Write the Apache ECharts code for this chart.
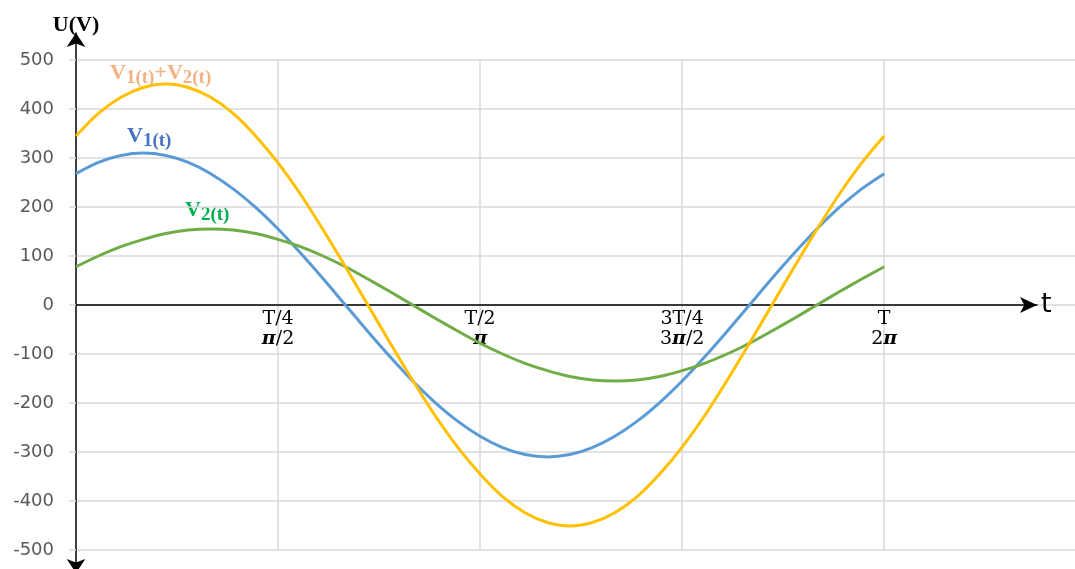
<!DOCTYPE html>
<html>
<head>
<meta charset="utf-8">
<script src="https://cdn.jsdelivr.net/npm/echarts@6/dist/echarts.min.js"></script>
<style>
  html, body { margin: 0; padding: 0; background: #fff; }
  #chart { width: 1075px; height: 569px; }
</style>
</head>
<body>
<div id="chart"></div>
<script>
    "use strict";

    // phase in degrees, one period = 360
    var tDeg = [0, 10, 20, 30, 40, 50, 60, 70, 80, 90, 100, 110, 120,
        130, 140, 150, 160, 170, 180, 190, 200, 210, 220, 230, 240,
        250, 260, 270, 280, 290, 300, 310, 320, 330, 340, 350, 360];
    var v1 = [268, 291, 305, 310, 305, 291, 268, 237, 199, 155, 106, 54, 0,
        -54, -106, -155, -199, -237, -268, -291, -305, -310, -305, -291, -268,
        -237, -199, -155, -106, -54, 0, 54, 106, 155, 199, 237, 268];
    var v2 = [78, 100, 119, 134, 146, 153, 155, 153, 146, 134, 119, 100, 78,
        53, 27, 0, -27, -53, -78, -100, -119, -134, -146, -153, -155,
        -153, -146, -134, -119, -100, -78, -53, -27, 0, 27, 53, 78];
    var vSum = [345, 391, 424, 444, 451, 444, 424, 391, 345, 290, 226, 154, 78,
        0, -78, -154, -226, -290, -345, -391, -424, -444, -451, -444, -424,
        -391, -345, -290, -226, -154, -78, 0, 78, 154, 226, 290, 345];

    var quarterTicks = [90, 180, 270, 360];
    var periodLabels = ['T/4', 'T/2', '3T/4', 'T'];
    var phaseLabels = ['{b|π}/2', '{b|π}', '3{b|π}/2', '2{b|π}'];

    function pairs(ys) {
        return tDeg.map(function (t, i) {
            return [t, ys[i]];
        });
    }

    var myChart = echarts.init(document.getElementById('chart'));

    var subStyle = {
        fontFamily: 'Liberation Serif',
        fontWeight: 'bold',
        fontSize: 19,
        lineHeight: 19,
        verticalAlign: 'bottom'
    };
    var bigStyle = {
        fontFamily: 'Liberation Serif',
        fontWeight: 'bold',
        fontSize: 22,
        lineHeight: 26,
        verticalAlign: 'top'
    };

    function curveLabel(text, color, left, top) {
        return {
            type: 'text',
            left: left,
            top: top,
            style: {
                text: text,
                fill: color,
                rich: { v: bigStyle, s: subStyle }
            }
        };
    }

    var option = {
        backgroundColor: '#fff',
        animation: false,
        grid: [
            { left: 76, right: 0, top: 60, bottom: 19, containLabel: false, outerBoundsMode: 'none' },
            { left: 76, right: 0, top: 33, bottom: -4, containLabel: false, outerBoundsMode: 'none' },
            { left: 76, right: 38, top: 0, bottom: 264, containLabel: false, outerBoundsMode: 'none' }
        ],
        xAxis: [
            {
                type: 'value',
                gridIndex: 0,
                min: 0,
                max: 445,
                interval: 90,
                position: 'bottom',
                // grid is 490px tall, so the zero line sits 245px above its bottom
                offset: -245,
                axisLine: { show: false, onZero: false },
                axisTick: { show: false },
                splitLine: {
                    show: true,
                    showMinLine: false,
                    showMaxLine: false,
                    lineStyle: { color: '#d9d9d9', width: 1.5 }
                },
                axisLabel: {
                    margin: 4,
                    color: '#000',
                    fontFamily: 'DejaVu Serif',
                    fontSize: 19,
                    lineHeight: 20,
                    formatter: function (val) {
                        var i = quarterTicks.indexOf(val);
                        if (i < 0) {
                            return '';
                        }
                        return periodLabels[i] + '\n' + phaseLabels[i];
                    },
                    rich: {
                        b: {
                            fontFamily: 'DejaVu Serif',
                            fontWeight: 'bold',
                            fontStyle: 'italic',
                            fontSize: 19,
                            lineHeight: 20,
                            color: '#000'
                        }
                    }
                }
            },
            { type: 'value', gridIndex: 1, min: 0, max: 1, show: false },
            {
                type: 'value',
                gridIndex: 2,
                min: 0,
                max: 1,
                position: 'bottom',
                name: 't',
                nameLocation: 'end',
                nameGap: 4,
                nameTextStyle: { color: '#000', fontSize: 27, fontFamily: 'DejaVu Sans', verticalAlign: 'middle', padding: [0, 0, 3, 0] },
                axisLine: {
                    show: true,
                    onZero: false,
                    symbol: ['none', 'arrow'],
                    symbolSize: [12, 17],
                    lineStyle: { color: '#000', width: 1.5 }
                },
                axisTick: { show: false },
                axisLabel: { show: false },
                splitLine: { show: false }
            }
        ],
        yAxis: [
            {
                type: 'value',
                gridIndex: 0,
                min: -500,
                max: 500,
                interval: 100,
                axisLine: { show: false, onZero: false },
                axisTick: {
                    show: true,
                    length: 7,
                    lineStyle: { color: '#d9d9d9', width: 1.5 }
                },
                splitLine: { lineStyle: { color: '#d9d9d9', width: 1.5 } },
                axisLabel: {
                    margin: 22,
                    color: '#595959',
                    fontFamily: 'DejaVu Sans',
                    fontSize: 18
                }
            },
            {
                type: 'value',
                gridIndex: 1,
                min: 0,
                max: 1,
                name: 'U(V)',
                nameLocation: 'end',
                nameGap: -3,
                nameTextStyle: { color: '#000', fontSize: 22, fontWeight: 'bold', fontFamily: 'Liberation Serif', align: 'center' },
                axisLine: {
                    show: true,
                    onZero: false,
                    symbol: ['arrow', 'arrow'],
                    symbolSize: [14, 14],
                    lineStyle: { color: '#000', width: 1.5 }
                },
                axisTick: { show: false },
                axisLabel: { show: false },
                splitLine: { show: false }
            },
            { type: 'value', gridIndex: 2, min: 0, max: 1, show: false }
        ],
        series: [
            {
                name: 'V1(t)',
                type: 'line',
                smooth: 0.3,
                showSymbol: false,
                data: pairs(v1),
                lineStyle: { color: '#5b9bd5', width: 3 },
                itemStyle: { color: '#5b9bd5' }
            },
            {
                name: 'V2(t)',
                type: 'line',
                smooth: 0.3,
                showSymbol: false,
                data: pairs(v2),
                lineStyle: { color: '#70ad47', width: 3 },
                itemStyle: { color: '#70ad47' }
            },
            {
                name: 'V1(t)+V2(t)',
                type: 'line',
                smooth: 0.3,
                showSymbol: false,
                data: pairs(vSum),
                lineStyle: { color: '#ffc000', width: 3 },
                itemStyle: { color: '#ffc000' }
            }
        ],
        graphic: [
            curveLabel('{v|V}{s|1(t)}{v|+V}{s|2(t)}', '#f4b183', 110, 62),
            curveLabel('{v|V}{s|1(t)}', '#4472c4', 127, 125),
            curveLabel('{v|V}{s|2(t)}', '#00b050', 185, 199)
        ]
    };

    myChart.setOption(option);
</script>
</body>
</html>
